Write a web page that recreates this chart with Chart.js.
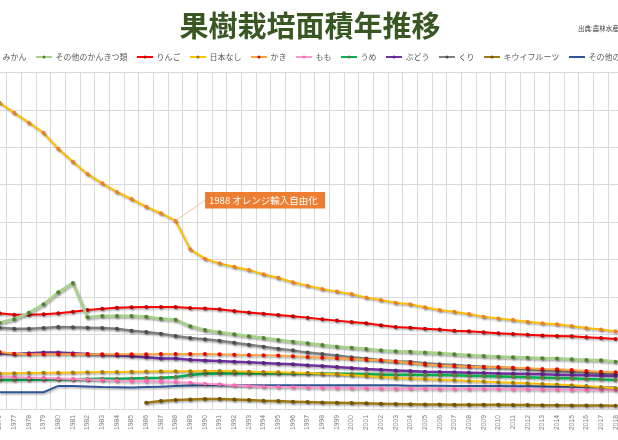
<!DOCTYPE html>
<html><head><meta charset="utf-8">
<script src="https://cdn.jsdelivr.net/npm/chart.js@4/dist/chart.umd.min.js"></script>
<style>
html,body{margin:0;padding:0;width:618px;height:440px;overflow:hidden;background:#fff;}
#wrap{position:absolute;left:-58px;top:0;width:731px;height:440px;}
</style></head><body>
<div id="wrap"><canvas id="c"></canvas></div>
<script>
const years = ['1976','1977','1978','1979','1980','1981','1982','1983','1984','1985','1986','1987','1988','1989','1990','1991','1992','1993','1994','1995','1996','1997','1998','1999','2000','2001','2002','2003','2004','2005','2006','2007','2008','2009','2010','2011','2012','2013','2014','2015','2016','2017','2018'];

const mikan = [164000,158600,153300,147900,139400,132400,125900,120900,116300,112500,108400,104900,100900,85600,80600,78100,76300,74600,72300,70400,68000,66200,64400,63000,61700,59800,58500,57100,56200,54600,53200,52300,51000,49600,48700,47800,46900,46100,45500,44600,43600,42700,41800];
const otherCitrus = [46400,48200,51700,56200,62600,67600,49300,50000,50000,50000,49600,48500,48000,44500,42500,41300,40200,39100,38200,37100,36200,35400,34500,33600,33000,32300,31600,31100,30900,30400,30000,29500,29000,28600,28200,27900,27700,27400,27200,26800,26500,26300,25500];
const ringo = [51400,50700,50700,50900,51400,52300,53200,53900,54400,54600,54800,54800,54800,54300,54000,53600,52600,51900,51200,50500,49800,49100,48200,47500,46800,46100,45000,44100,43700,43200,42700,42100,41800,41300,40700,40400,40000,39600,39300,39100,38600,38200,37700];
const nashi = [19300,19400,19500,19600,19700,19800,19900,20000,20100,20200,20300,20400,20500,20500,20600,20600,20400,20200,20000,19900,19700,19500,19100,18800,18300,17900,17400,16900,16600,16300,15900,15600,15200,14900,14500,14300,14000,13600,13300,12900,12600,12000,11300];
const kaki = [30700,29800,29500,29500,29500,29500,29500,29500,29500,29500,29500,29600,29600,29700,29700,29500,29300,29100,29000,28800,28400,28100,27700,27400,27000,26600,26300,25700,24800,24000,23500,23300,22900,22700,22600,22300,22000,21600,21500,21100,20600,20200,19900];
const momo = [17300,17200,17000,16800,16600,16300,16000,15700,15400,15200,15100,14900,14700,14300,13800,13500,12900,12500,12200,12000,11900,11700,11600,11500,11400,11300,11200,11100,11200,11100,11000,11000,10900,10900,10900,10800,10800,10700,10700,10600,10500,10500,10400];
const ume = [15800,15800,15900,16000,16100,16200,16300,16400,16500,16600,16800,17000,17400,18400,19100,19300,19300,19300,19300,19300,19300,19300,19300,19100,19000,18800,18700,18600,18600,18500,18400,18300,18100,17900,17700,17500,17200,17000,16800,16700,16300,16100,15800];
const budou = [30000,29700,30000,30400,30400,30000,29700,29300,29000,28400,27900,27300,27200,26600,26200,25900,25500,25200,24900,24500,24200,23600,23300,22700,22200,21600,21300,20900,20600,20200,20000,19900,19700,19500,19300,19100,19000,18800,18600,18400,18300,18100,17900];
const kuri = [43700,43200,43200,43600,44100,43900,43700,43600,43200,42100,41400,40500,39300,38200,37600,36800,35700,34600,33600,32500,31600,30400,29700,28800,27900,27200,26300,25800,25500,24700,24200,23800,23300,22900,22600,22000,21600,21100,20700,20200,19900,19300,18800];
const kiwi = [null,null,null,null,null,null,null,null,null,null,3600,4500,5100,5400,5600,5600,5300,5100,4700,4500,4200,4000,3800,3600,3500,3300,3100,2900,2800,2700,2700,2600,2600,2500,2500,2400,2400,2300,2300,2200,2200,2100,2000];
const otherFruit = [9200,9200,9200,9200,12600,12600,12300,12000,11900,11800,12000,12200,12500,12800,12900,13000,13000,13000,13000,13000,13000,12900,12900,12900,12900,12900,12900,12900,12700,12700,12700,12600,12600,12500,12500,12400,12400,12300,12200,12100,12000,11900,11700];

const seriesNames = ['みかん','その他のかんきつ類','りんご','日本なし','かき','もも','うめ','ぶどう','くり','キウイフルーツ','その他の果樹'];
const seriesData = [mikan, otherCitrus, ringo, nashi, kaki, momo, ume, budou, kuri, kiwi, otherFruit];
const lineColors = ['#FFC000','#A9D18E','#FF0000','#FFC000','#FFA63C','#FF99CC','#00B050','#7030A0','#7F7F7F','#A07A10','#2F5597'];
const pointColors = ['#ED7D31','#548235','#C00000','#997A00','#E00000','#FF66B3','#7F6F3F','#5A2480','#4D4D4D','#6B5200',null];
const lineWidths = [2,3,2,2,2,2,2.5,2.5,2.5,2.5,2];

const titleText = '果樹栽培面積年推移';
const sourceText = '出典:農林水産省';
const noteYear = '1988';
const noteText = '1988 オレンジ輸入自由化';

function makeIcon(lc, pc) {
  const c = document.createElement('canvas');
  c.width = 16; c.height = 6;
  const g = c.getContext('2d');
  g.strokeStyle = lc; g.lineWidth = 2;
  g.beginPath(); g.moveTo(0, 3); g.lineTo(16, 3); g.stroke();
  if (pc) { g.fillStyle = pc; g.beginPath(); g.arc(8, 3, 1.5, 0, Math.PI * 2); g.fill(); }
  return c;
}
const legendIcons = seriesNames.map((n, i) => makeIcon(lineColors[i], pointColors[i]));

const datasets = seriesNames.map((name, i) => ({
  label: name,
  data: seriesData[i],
  borderColor: lineColors[i],
  backgroundColor: lineColors[i],
  borderWidth: lineWidths[i],
  pointRadius: pointColors[i] ? 2 : 0,
  pointBorderWidth: 0,
  pointBackgroundColor: pointColors[i] || lineColors[i],
  tension: 0,
  fill: false,
  yAxisID: 'y'
}));

const shadowPlugin = {
  id: 'shadow',
  beforeDatasetDraw(chart) {
    const ctx = chart.ctx; ctx.save();
    ctx.shadowColor = 'rgba(0,0,0,0.3)'; ctx.shadowBlur = 2; ctx.shadowOffsetX = 1; ctx.shadowOffsetY = 1.5;
  },
  afterDatasetDraw(chart) { chart.ctx.restore(); }
};

const notePlugin = {
  id: 'note',
  afterDatasetsDraw(chart) {
    const meta = chart.getDatasetMeta(0);
    const pt = meta.data[years.indexOf(noteYear)];
    if (!pt) return;
    const ctx = chart.ctx;
    const bx = pt.x + 29.5, by = pt.y - 28.7, bw = 120, bh = 16.5;
    ctx.save();
    ctx.strokeStyle = '#F4B183'; ctx.lineWidth = 0.8;
    ctx.beginPath(); ctx.moveTo(pt.x, pt.y); ctx.lineTo(bx, by + bh * 0.5); ctx.stroke();
    ctx.fillStyle = '#ED7D31'; ctx.fillRect(bx, by, bw, bh);
    ctx.fillStyle = '#FFFFFF'; ctx.font = "9.5px 'Noto Sans CJK JP'";
    ctx.textBaseline = 'middle'; ctx.textAlign = 'left';
    ctx.fillText(noteText, bx + 4, by + bh / 2 + 0.5);
    ctx.restore();
  },
  afterDraw(chart) {
    const ctx = chart.ctx;
    ctx.save();
    ctx.fillStyle = '#404040'; ctx.font = "6.5px 'Noto Sans CJK JP'";
    ctx.textBaseline = 'middle'; ctx.textAlign = 'left';
    ctx.fillText(sourceText, chart.width - 95, 28.5);
    ctx.restore();
  }
};

new Chart(document.getElementById('c'), {
  type: 'line',
  data: { labels: years, datasets },
  plugins: [shadowPlugin, notePlugin],
  options: {
    responsive: true,
    maintainAspectRatio: false,
    animation: false,
    devicePixelRatio: 1,
    layout: { padding: { left: 5, right: 0, top: 0, bottom: 4.38 } },
    plugins: {
      title: {
        display: true, text: titleText, color: '#385723',
        font: { family: "'Noto Sans CJK JP'", size: 29, weight: 'bold', lineHeight: 1.2 },
        padding: { top: 8.1, bottom: 0.1 }
      },
      subtitle: {
        display: true, text: '', weight: 100,
        font: { size: 1, lineHeight: 1.2 }, padding: { top: 0.5, bottom: 0 }
      },
      legend: {
        display: true, position: 'top',
        labels: {
          usePointStyle: true, pointStyleWidth: 15, padding: 10,
          color: '#595959', font: { family: "'Noto Sans CJK JP'", size: 8 },
          generateLabels(chart) {
            const items = Chart.defaults.plugins.legend.labels.generateLabels(chart);
            items.forEach((it) => { it.pointStyle = legendIcons[it.datasetIndex]; });
            return items;
          }
        }
      },
      tooltip: { enabled: false }
    },
    scales: {
      x: {
        offset: true,
        grid: { offset: true, color: '#D9D9D9', drawTicks: false, lineWidth: 1 },
        border: { color: '#D9D9D9' },
        ticks: {
          autoSkip: false, maxRotation: 90, minRotation: 90, padding: 5.5,
          color: '#7F7F7F', font: { family: "'Liberation Sans'", size: 6.8 }
        }
      },
      y: {
        position: 'left',
        min: 0, max: 180000,
        ticks: { display: false, stepSize: 20000 },
        grid: { color: '#D9D9D9', drawTicks: false, lineWidth: 1 },
        border: { display: false },
        afterFit(s) { s.width = 45.2; }
      },
      y2: {
        position: 'right', display: true,
        min: 0, max: 1,
        ticks: { display: false },
        grid: { display: false, drawTicks: false },
        border: { display: false },
        afterFit(s) { s.width = 50; }
      }
    }
  }
});
</script>
</body></html>
